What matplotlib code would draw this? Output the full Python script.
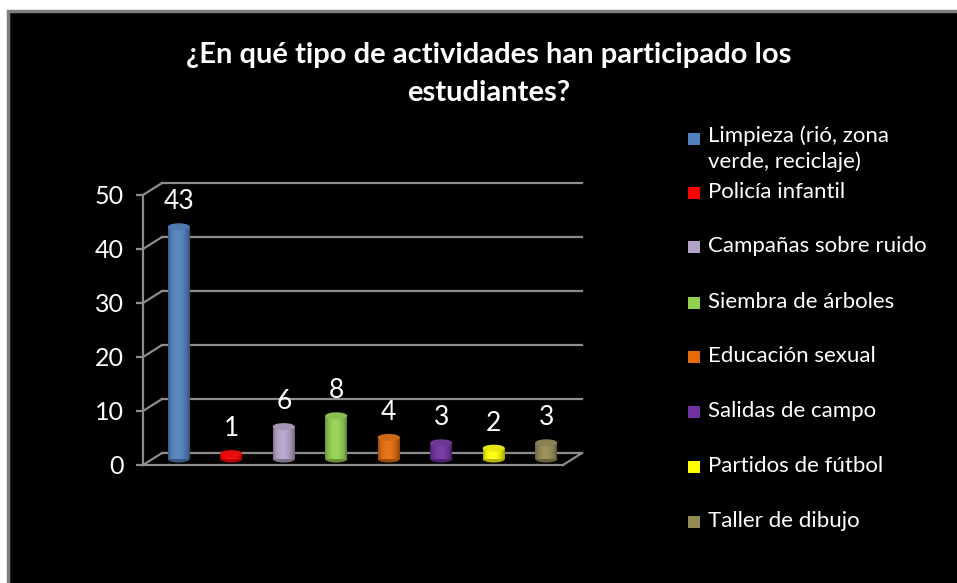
import numpy as np
import matplotlib.pyplot as plt
from matplotlib.patches import Rectangle, Ellipse
from matplotlib.colors import to_rgb

plt.rcParams['font.family'] = ['Lato', 'DejaVu Sans']

# data
categories = ['Limpieza (rió, zona\nverde, reciclaje)', 'Policía infantil',
              'Campañas sobre ruido', 'Siembra de árboles', 'Educación sexual',
              'Salidas de campo', 'Partidos de fútbol', 'Taller de dibujo']
values = [43, 1, 6, 8, 4, 3, 2, 3]
colors = ['#4F81BD', '#FF0000', '#B3A2C7', '#92D050', '#E36C09',
          '#7030A0', '#FFFF00', '#948A54']
yticks = [0, 10, 20, 30, 40, 50]
title = '¿En qué tipo de actividades han participado los\nestudiantes?'

W, H = 957, 583
fig = plt.figure(figsize=(W / 100, H / 100), dpi=100)
fig.patch.set_facecolor('white')

# black chart area with grey frame
fig.patches.append(Rectangle((8, -5), W, H - 6, transform=None,
                             facecolor='black', edgecolor='#7F7F7F',
                             linewidth=2.5, zorder=-5))

ax = fig.add_axes([143 / W, (H - 465) / H, 420 / W, 270 / H])
ax.set_facecolor('none')
ax.set_xlim(-0.5, 7.5)
ax.set_ylim(0, 50)

grid_c = '#8C8C8C'
dx, dy = 0.362, 2.22  # depth offset of the back wall (data units)

for s in ['top', 'right']:
    ax.spines[s].set_visible(False)
for s in ['left', 'bottom']:
    ax.spines[s].set_color(grid_c)
    ax.spines[s].set_linewidth(1.6)
ax.set_xticks([])
ax.set_yticks(yticks)
ax.tick_params(axis='y', colors=grid_c, length=5, width=1.6, pad=9,
               labelcolor='white', labelsize=18)

# back wall gridlines + left wall diagonals
for v in yticks:
    ax.plot([-0.5 + dx, 7.5 + dx], [v + dy, v + dy], color=grid_c, lw=1.6,
            clip_on=False, zorder=1)
    ax.plot([-0.5, -0.5 + dx], [v, v + dy], color=grid_c, lw=1.6,
            clip_on=False, zorder=1)
# floor right edge
ax.plot([7.5, 7.5 + dx], [0, dy], color=grid_c, lw=1.6, clip_on=False, zorder=1)

# cylinders
bw = 0.42
eh = 1.3
nstrip = 24
for i, (v, c) in enumerate(zip(values, colors)):
    base = np.array(to_rgb(c))
    cx = i + dx / 2
    y0 = dy / 2
    ax.add_patch(Ellipse((cx, y0), bw, eh, facecolor=base * 0.7,
                         edgecolor='none', zorder=3, clip_on=False))
    for k in range(nstrip):
        t = (k + 0.5) / nstrip
        shade = 0.66 + 0.4 * np.sin(np.pi * t) ** 0.6 - 0.1 * t
        col = np.clip(base * shade + (1 - base) * 0.06 * np.sin(np.pi * t), 0, 1)
        ax.add_patch(Rectangle((cx - bw / 2 + k * bw / nstrip, y0),
                               bw / nstrip * 1.02, v, facecolor=col,
                               edgecolor='none', zorder=4, clip_on=False))
    ax.add_patch(Ellipse((cx, y0 + v), bw, eh,
                         facecolor=np.clip(base * 0.85 + 0.05, 0, 1),
                         edgecolor='none', zorder=5, clip_on=False))
    ax.text(cx, y0 + v + 4.6, str(v), color='white', fontsize=19,
            ha='center', va='center', zorder=6)

fig.text(489 / W, 1 - 74 / H, title, color='white', fontsize=21,
         fontweight='bold', ha='center', va='center', linespacing=1.6)

# legend
leg_y = [139, 193, 247, 303, 357, 412, 467, 522]
for name, c, y in zip(categories, colors, leg_y):
    fig.patches.append(Rectangle((688, H - y - 6), 12, 12, transform=None,
                                 facecolor=c, edgecolor='none'))
    wrapped = '\n' in name
    fig.text(708 / W, 1 - ((y - 14) if wrapped else (y - 1)) / H, name,
             color='white', fontsize=16, ha='left',
             va='top' if wrapped else 'center', linespacing=1.35)

fig.savefig('out.png', dpi=100, facecolor=fig.get_facecolor())
